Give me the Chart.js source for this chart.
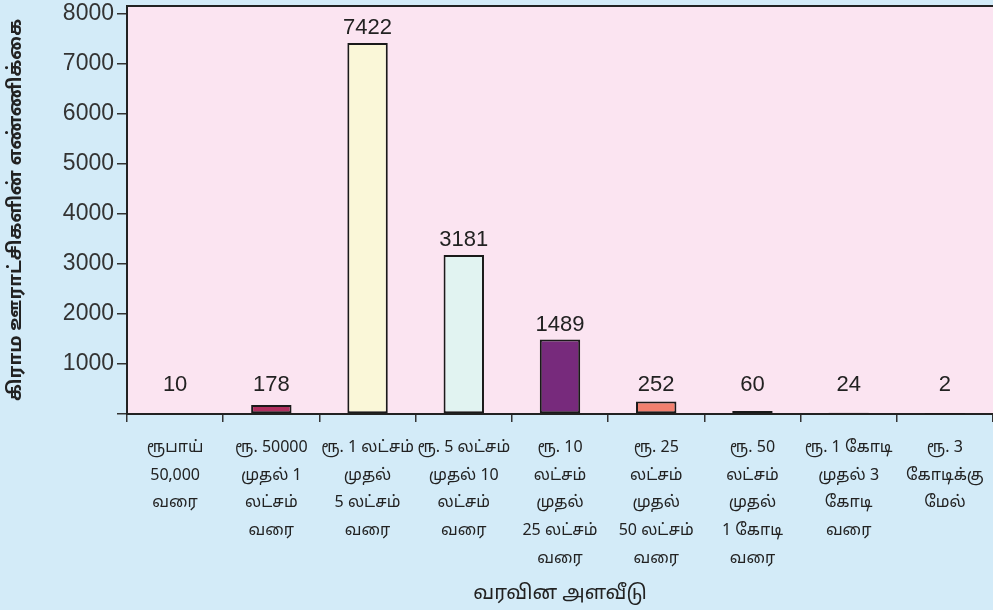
<!DOCTYPE html>
<html>
<head>
<meta charset="utf-8">
<script src="https://cdn.jsdelivr.net/npm/chart.js@4"></script>
<style>
  html, body { margin: 0; padding: 0; background: #d3ebf8; }
  #wrap { width: 993px; height: 610px; }
</style>
</head>
<body>
<div id="wrap"><canvas id="myChart"></canvas></div>
<script>
const categories = [
    ['ரூபாய்', '50,000', 'வரை'],
    ['ரூ. 50000', 'முதல் 1', 'லட்சம்', 'வரை'],
    ['ரூ. 1 லட்சம்', 'முதல்', '5 லட்சம்', 'வரை'],
    ['ரூ. 5 லட்சம்', 'முதல் 10', 'லட்சம்', 'வரை'],
    ['ரூ. 10', 'லட்சம்', 'முதல்', '25 லட்சம்', 'வரை'],
    ['ரூ. 25', 'லட்சம்', 'முதல்', '50 லட்சம்', 'வரை'],
    ['ரூ. 50', 'லட்சம்', 'முதல்', '1 கோடி', 'வரை'],
    ['ரூ. 1 கோடி', 'முதல் 3', 'கோடி', 'வரை'],
    ['ரூ. 3', 'கோடிக்கு', 'மேல்']
];
const panchayats = [10, 178, 7422, 3181, 1489, 252, 60, 24, 2];
const yTicks = [0, 1000, 2000, 3000, 4000, 5000, 6000, 7000, 8000];
const barColors = ['#4f7fc0', '#b0305f', '#faf7d8', '#e1f3f1', '#772a7c', '#f2806f', '#3b3b6b', '#4aa0a0', '#999999'];

const tamilFont = "'Noto Sans Tamil', 'Lohit Tamil', 'Latha', sans-serif";

// pink plot area + top border
const plotBg = {
    id: 'plotBg',
    beforeDraw(chart) {
        const { ctx, chartArea: a } = chart;
        ctx.save();
        ctx.fillStyle = '#fbe4f1';
        ctx.fillRect(a.left, a.top, a.right - a.left, a.bottom - a.top);
        ctx.strokeStyle = '#222';
        ctx.lineWidth = 2;
        ctx.beginPath();
        ctx.moveTo(a.left, a.top);
        ctx.lineTo(a.right, a.top);
        ctx.stroke();
        ctx.restore();
    }
};

// value labels above the bars
const valueLabels = {
    id: 'valueLabels',
    afterDatasetsDraw(chart) {
        const { ctx } = chart;
        const meta = chart.getDatasetMeta(0);
        const base = chart.scales.y.getPixelForValue(0);
        ctx.save();
        ctx.font = '22px "Liberation Sans", Arial, sans-serif';
        ctx.fillStyle = '#222';
        ctx.textAlign = 'center';
        ctx.textBaseline = 'middle';
        meta.data.forEach((bar, i) => {
            const top = Math.min(bar.y, base - 14);
            ctx.fillText(String(panchayats[i]), bar.x, top - 15);
        });
        ctx.restore();
    }
};

const ctx = document.getElementById('myChart');

new Chart(ctx, {
    type: 'bar',
    data: {
        labels: categories,
        datasets: [{
            data: panchayats,
            backgroundColor: barColors,
            borderColor: '#1a1a1a',
            borderWidth: 2,
            borderSkipped: false,
            barPercentage: 0.84,
            categoryPercentage: 0.5
        }]
    },
    options: {
        responsive: true,
        maintainAspectRatio: false,
        animation: false,
        layout: { padding: { top: 6, right: 0, left: 0, bottom: 0 } },
        plugins: {
            legend: { display: false },
            tooltip: { enabled: false }
        },
        scales: {
            x: {
                grid: {
                    display: true,
                    drawOnChartArea: false,
                    drawTicks: true,
                    tickLength: 8,
                    color: '#333',
                    lineWidth: 1.5
                },
                border: { display: true, color: '#222', width: 2 },
                ticks: {
                    color: '#222',
                    font: { family: tamilFont, size: 16, lineHeight: 1.73 },
                    padding: 13,
                    maxRotation: 0,
                    autoSkip: false
                },
                title: {
                    display: true,
                    text: 'வரவின அளவீடு',
                    color: '#222',
                    font: { family: tamilFont, size: 20 },
                    padding: { top: 0, bottom: 3 }
                },
                afterFit(scale) {
                    scale.height = 196;
                    scale.paddingLeft = 0;
                    scale.paddingRight = 0;
                }
            },
            y: {
                min: 0,
                max: 8160,
                afterBuildTicks(scale) {
                    scale.ticks = yTicks.map(v => ({ value: v }));
                },
                grid: {
                    display: true,
                    drawOnChartArea: false,
                    drawTicks: true,
                    tickLength: 10,
                    color: '#333',
                    lineWidth: 1.5
                },
                border: { display: true, color: '#222', width: 2 },
                ticks: {
                    color: '#333',
                    font: { family: "'Liberation Sans', Arial, sans-serif", size: 23 },
                    padding: 3,
                    callback: v => (v === 0 ? '' : String(v))
                },
                title: {
                    display: true,
                    text: 'கிராம ஊராட்சிகளின் எண்ணிக்கை',
                    color: '#222',
                    font: { family: tamilFont, size: 18.5, weight: 'bold' },
                    padding: { top: 6, bottom: 0 }
                },
                afterFit(scale) {
                    scale.width = 127;
                    scale.paddingTop = 0;
                    scale.paddingBottom = 0;
                }
            }
        }
    },
    plugins: [plotBg, valueLabels]
});
</script>
</body>
</html>
